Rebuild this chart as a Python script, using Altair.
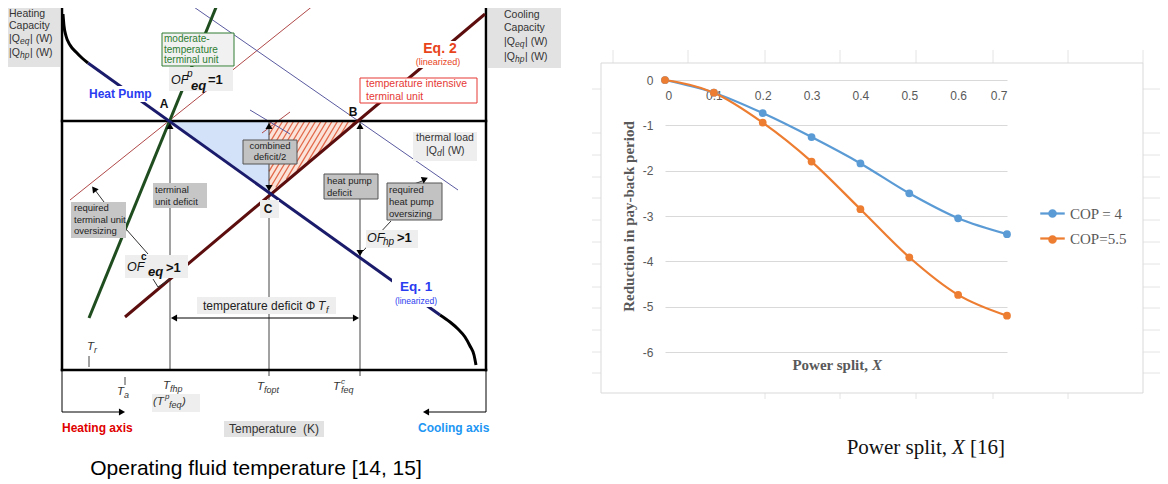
import altair as alt
import pandas as pd

# ---------------- right chart data ----------------
POWER_SPLIT = [0, 0.1, 0.2, 0.3, 0.4, 0.5, 0.6, 0.7]
COP_4 = [0, -0.28, -0.73, -1.26, -1.84, -2.50, -3.05, -3.40]
COP_55 = [0, -0.28, -0.94, -1.80, -2.85, -3.91, -4.74, -5.20]
SERIES = ["COP = 4", "COP=5.5"]
SERIES_COLORS = ["#5B9BD5", "#ED7D31"]
Y_TICKS = [-6, -5, -4, -3, -2, -1, 0]

# ---------------- left schematic (drawing units) ----------------
FRAME_THICK = [(62, 5, 486, 5), (62, 5, 62, 370), (486, 5, 486, 370),
               (62, 370, 486, 370), (62, 121, 486, 121)]
AXIS_LINES = [(62, 370, 62, 412), (62, 412, 119, 412), (486, 370, 486, 412),
              (486, 412, 429, 412), (174, 318, 356, 318)]
GUIDE_LINES = [(170, 121, 170, 370), (269, 121, 269, 376), (360, 121, 360, 376),
               (89, 356, 89, 367), (125, 377, 125, 385)]
CONNECTORS = [(104, 202, 95, 190), (126, 229, 148, 254), (153, 279, 158, 287),
              (158, 287, 170, 279), (414, 184, 425, 180), (391, 221, 363, 251)]
THIN_RED = [(70, 200, 314, 5), (262, 133, 290, 112)]
THIN_SLATE = [(191, 5, 458, 190), (250, 110, 290, 134)]

NAVY_LINE = [(88, 63), (440, 315)]
GREEN_LINE = [(89, 318), (217, 5)]
BROWN_LINE = [(125, 317), (485, 14)]
BLACK_TOP = [(63, 14), (64, 26), (66, 36), (70, 45), (76, 52), (82, 58), (88, 63)]
BLACK_BOTTOM = [(440, 315), (450, 322), (458, 329), (465, 337), (470, 346), (474, 355), (476, 365)]

HEADS = [(170, 126, 0), (269, 126, 0), (269, 188, 180), (360, 126, 0), (360, 253, 180),
         (174, 318, 270), (356, 318, 90), (122, 412, 90), (426, 412, 270),
         (94, 189, 323), (425, 179, 67)]

BLUE_TRI = [(170, 121, 121), (269, 121, 193)]
RED_TRI = [(269, 121, 193), (359, 121, 121)]
RED_TRI_VERTS = [(269, 121), (359, 121), (269, 193)]

CAP_BOXES = [(8, 60, 8, 67), (488, 561, 8, 68), (224, 324, 421, 437)]
LIGHT_BOXES = [(169, 233, 67, 91), (125, 188, 255, 278), (366, 418, 230, 248),
               (260, 279, 200, 218), (197, 336, 297, 314), (152, 200, 394, 412),
               (413, 477, 132, 161)]
DARK_BOXES_BORDER = [(243, 297, 140, 164), (324, 378, 174, 199), (387, 442, 183, 220)]
DARK_BOXES = [(153, 207, 183, 208), (71, 126, 202, 238)]
GREEN_BOX = [(162, 234, 33, 66)]
RED_BOX = [(360, 477, 78, 103)]
WHITE_BG = [(88, 152, 86, 102), (392, 441, 278, 307), (425, 457, 41, 57), (411, 466, 57, 68)]

EXCEL_BOX = [(601, 1143, 63, 393)]
SHEET_COLS = [613, 688, 765, 840, 916, 993, 1068, 1143]
SHEET_ROWS = [89, 133, 155, 177, 198, 220, 242, 264, 287, 308, 330, 352, 373]

T_CAP = [(9, 14, "Heating"), (9, 26, "Capacity"), (9, 39, "|Q"), (30, 39, "| (W)"),
         (9, 53, "|Q"), (30, 53, "| (W)"),
         (504, 15, "Cooling"), (504, 28, "Capacity"), (504, 42, "|Q"), (525, 42, "| (W)"),
         (504, 57, "|Q"), (525, 57, "| (W)"),
         (426, 151, "|Q"), (442, 151, "| (W)")]
T_CAP_SUB = [(20, 41, "eq"), (20, 55, "hp"), (515, 44, "eq"), (515, 59, "hp"), (437, 153, "d")]
T_CAP_C = [(445, 138, "thermal load")]
T_BOX = [(155, 190, "terminal"), (155, 202, "unit deficit"), (74, 208, "required"),
         (74, 220, "terminal unit"), (74, 231, "oversizing"), (327, 181, "heat pump"),
         (327, 193, "deficit"), (389, 190, "required"), (389, 202, "heat pump"),
         (389, 214, "oversizing")]
T_BOX_C = [(270, 146, "combined"), (270, 157, "deficit/2")]
T_GREEN = [(164, 39, "moderate-"), (164, 50, "temperature"), (164, 60, "terminal unit")]
T_RED = [(366, 84, "temperature intensive"), (366, 97, "terminal unit")]
T_EQ2 = [(440, 49, "Eq. 2")]
T_EQ2_S = [(438, 62, "(linearized)")]
T_EQ1 = [(416, 287, "Eq. 1")]
T_EQ1_S = [(416, 301, "(linearized)")]
T_HP = [(89, 94, "Heat Pump")]
T_PTS = [(164, 104, "A"), (353, 112, "B"), (268, 209, "C")]
T_OF = [(171, 80, "OF"), (127, 267, "OF"), (367, 238, "OF")]
T_OF_SMALL_I = [(187, 74, "p"), (383, 242, "hp")]
T_OF_BOLD = [(208, 80, "=1"), (166, 268, ">1"), (397, 238, ">1")]
T_OF_EQ = [(191, 86, "eq"), (148, 272, "eq")]
T_OF_C = [(141, 257, "c")]
T_TD = [(203, 306, "temperature deficit \u03a6")]
T_TD_T = [(318, 306, "T")]
T_TD_F = [(326, 310, "f")]
T_T = [(87, 347, "T"), (117, 392, "T"), (163, 386, "T"), (257, 387, "T"), (333, 387, "T"),
       (153, 402, "(T"), (182, 402, ")")]
T_T_SUB = [(94, 350, "r"), (124, 395, "a"), (170, 389, "fhp"), (264, 390, "fopt"),
           (341, 390, "feq"), (169, 405, "feq")]
T_T_SUP = [(341, 382, "c"), (165, 397, "p")]
T_HEATAX = [(62, 428, "Heating axis")]
T_COOLAX = [(418, 428, "Cooling axis")]
T_TEMPK = [(274, 429, "Temperature\u00a0 (K)")]
CAP_LEFT = [(256, 469, "Operating fluid temperature [14, 15]")]
CAP_RIGHT_A = [(947, 448, "Power split,")]
CAP_RIGHT_X = [(952, 448, "X")]
CAP_RIGHT_B = [(970, 448, "[16]")]
XTITLE_A = [(868, 365, "Power split,")]
XTITLE_X = [(872, 365, "X")]

SANS = "Liberation Sans"
SERIF = "Liberation Serif"

LXS = alt.Scale(domain=[8, 1160], nice=False, zero=False)
LYS = alt.Scale(domain=[8, 484], nice=False, zero=False, reverse=True)


def LX(f):
    return alt.X(f, type="quantitative", scale=LXS, axis=None)


def LY(f):
    return alt.Y(f, type="quantitative", scale=LYS, axis=None)


def segs(rows, **mk):
    df = pd.DataFrame(rows, columns=["x", "y", "x2", "y2"])
    return alt.Chart(df).mark_rule(**mk).encode(
        x=LX("x"), y=LY("y"), x2=alt.X2("x2"), y2=alt.Y2("y2"))


def poly(paths, **mk):
    rows = [dict(id=i, o=j, x=p[0], y=p[1]) for i, path in enumerate(paths) for j, p in enumerate(path)]
    return alt.Chart(pd.DataFrame(rows)).mark_line(**mk).encode(
        x=LX("x"), y=LY("y"), detail="id:N", order="o:Q")


def rects(rows, **mk):
    df = pd.DataFrame(rows, columns=["x", "x2", "y", "y2"])
    return alt.Chart(df).mark_rect(**mk).encode(
        x=LX("x"), x2=alt.X2("x2"), y=LY("y"), y2=alt.Y2("y2"))


def texts(rows, size, color="#222", align="left", weight="normal", style="normal", font=SANS):
    df = pd.DataFrame(rows, columns=["x", "y", "t"])
    return alt.Chart(df).mark_text(
        baseline="middle", align=align, fontSize=size, color=color,
        fontWeight=weight, fontStyle=style, font=font).encode(
        x=LX("x"), y=LY("y"), text="t:N")


def tri(rows, color):
    df = pd.DataFrame(rows, columns=["x", "y", "y2"])
    return alt.Chart(df).mark_area(color=color, opacity=1).encode(
        x=LX("x"), y=LY("y"), y2=alt.Y2("y2"))


def heads(rows):
    df = pd.DataFrame(rows, columns=["x", "y", "a"])
    return alt.Chart(df).mark_point(shape="triangle-up", filled=True, size=50,
                                    color="#000", opacity=1).encode(
        x=LX("x"), y=LY("y"), angle=alt.Angle("a:Q", scale=None))


def hatch_segments(verts, step, k):
    """Clip the texture lines x + k*y = c to a convex polygon (hatch pattern)."""
    xs = [v[0] + k * v[1] for v in verts]
    out = []
    c = min(xs) + step / 2
    n = len(verts)
    while c < max(xs):
        pts = []
        for i in range(n):
            (x1, y1), (x2, y2) = verts[i], verts[(i + 1) % n]
            f1, f2 = x1 + k * y1 - c, x2 + k * y2 - c
            if f1 == f2:
                continue
            t = f1 / (f1 - f2)
            if 0 <= t <= 1:
                pts.append((x1 + t * (x2 - x1), y1 + t * (y2 - y1)))
        if len(pts) >= 2:
            pts.sort()
            out.append((pts[0][0], pts[0][1], pts[-1][0], pts[-1][1]))
        c += step
    return out


sheet_v = [(x, 50, x, 63) for x in SHEET_COLS] + [(x, 393, x, 399) for x in SHEET_COLS[2:7]]
sheet_h = [(1143, y, 1160, y) for y in SHEET_ROWS] + [(592, y, 601, y) for y in SHEET_ROWS]

left_layers = [
    segs(sheet_v + sheet_h, color="#e4e4e4", strokeWidth=1),
    rects(EXCEL_BOX, fillOpacity=0, stroke="#d9d9d9", strokeWidth=1),
    tri(BLUE_TRI, "#d3e2f9"),
    tri(RED_TRI, "#fbe3da"),
    segs(hatch_segments(RED_TRI_VERTS, 5.5, 0.6), color="#e2694a", strokeWidth=1.3),
    segs(THIN_RED, color="#b04848", strokeWidth=1),
    segs(THIN_SLATE, color="#5a5aa0", strokeWidth=1),
    segs(GUIDE_LINES, color="#444", strokeWidth=1),
    segs(AXIS_LINES, color="#000", strokeWidth=1),
    segs(FRAME_THICK, color="#000", strokeWidth=2.5, strokeCap="square"),
    poly([GREEN_LINE], color="#1f4d1f", strokeWidth=3),
    poly([BROWN_LINE], color="#5c0d0d", strokeWidth=3),
    poly([NAVY_LINE], color="#1b1b6b", strokeWidth=3),
    poly([BLACK_TOP, BLACK_BOTTOM], color="#000", strokeWidth=3, interpolate="monotone"),
    rects(WHITE_BG, fill="white"),
    segs(CONNECTORS, color="#333", strokeWidth=1),
    rects(CAP_BOXES, fill="#e2e2e2"),
    rects(LIGHT_BOXES, fill="#eeeeee"),
    rects(DARK_BOXES_BORDER, fill="#c2c2c2", stroke="#555", strokeWidth=1),
    rects(DARK_BOXES, fill="#c6c6c6"),
    rects(GREEN_BOX, fill="#f1f1f1", stroke="#2e7d32", strokeWidth=1),
    rects(RED_BOX, fill="white", stroke="#e53935", strokeWidth=1),
    heads(HEADS),
    texts(T_CAP, 10.5, "#333"),
    texts(T_CAP_SUB, 8.5, "#333", style="italic"),
    texts(T_CAP_C, 10.5, "#333", align="center"),
    texts(T_BOX, 9.5, "#222"),
    texts(T_BOX_C, 9.5, "#222", align="center"),
    texts(T_GREEN, 10, "#2e7d32"),
    texts(T_RED, 10.5, "#e53935"),
    texts(T_EQ2, 14, "#e8441c", align="center", weight="bold"),
    texts(T_EQ2_S, 9, "#e8441c", align="center"),
    texts(T_EQ1, 13.5, "#2a3cf0", align="center", weight="bold"),
    texts(T_EQ1_S, 8.5, "#2a3cf0", align="center"),
    texts(T_HP, 12, "#2a3cf0", weight="bold"),
    texts(T_PTS, 12, "#111", align="center", weight="bold"),
    texts(T_OF, 12.5, "#111", style="italic"),
    texts(T_OF_SMALL_I, 10, "#111", style="italic"),
    texts(T_OF_BOLD, 13, "#111", weight="bold"),
    texts(T_OF_EQ, 13, "#111", weight="bold", style="italic"),
    texts(T_OF_C, 10, "#111", weight="bold"),
    texts(T_TD, 12, "#222"),
    texts(T_TD_T, 12, "#222", style="italic"),
    texts(T_TD_F, 9, "#222", style="italic"),
    texts(T_T, 11.5, "#333", style="italic"),
    texts(T_T_SUB, 9, "#333", style="italic"),
    texts(T_T_SUP, 8, "#333", style="italic"),
    texts(T_HEATAX, 12, "#e00000", weight="bold"),
    texts(T_COOLAX, 12, "#2196f3", weight="bold"),
    texts(T_TEMPK, 12, "#333", align="center"),
    texts(CAP_LEFT, 21, "#000", align="center"),
    texts(CAP_RIGHT_A, 21, "#111", align="right", font=SERIF),
    texts(CAP_RIGHT_X, 21, "#111", style="italic", font=SERIF),
    texts(CAP_RIGHT_B, 21, "#111", font=SERIF),
    texts(XTITLE_A, 15, "#595959", align="right", weight="bold", font=SERIF),
    texts(XTITLE_X, 15, "#595959", weight="bold", style="italic", font=SERIF),
]
left = alt.layer(*left_layers)

# ---------------- right chart ----------------
rdf = pd.DataFrame({
    "split": POWER_SPLIT + POWER_SPLIT,
    "val": COP_4 + COP_55,
    "series": [SERIES[0]] * len(POWER_SPLIT) + [SERIES[1]] * len(POWER_SPLIT),
})
rdf["marker"] = rdf["series"]

RXS = alt.Scale(domain=[0, 0.7], range=[657, 999], nice=False, zero=False)
RYS = alt.Scale(domain=[-6, 0], range=[344, 72], nice=False, zero=False)

x_axis = alt.Axis(values=POWER_SPLIT, labelExpr="'' + datum.value", orient="bottom",
                  offset=-404, domain=False, ticks=False, grid=False, labelPadding=10,
                  labelFont=SANS, labelFontSize=12, labelColor="#595959", title=None)
y_axis = alt.Axis(values=Y_TICKS, labelExpr="'' + datum.value", orient="left",
                  offset=-657, domain=False, ticks=False, grid=True, gridColor="#d9d9d9",
                  gridWidth=1, labelPadding=12, labelFont=SANS, labelFontSize=12,
                  labelColor="#595959", title="Reduction in pay-back period",
                  titleFont=SERIF, titleFontSize=15, titleFontWeight="bold",
                  titleColor="#595959", titlePadding=6)

RX = alt.X("split:Q", scale=RXS, axis=x_axis)
RY = alt.Y("val:Q", scale=RYS, axis=y_axis)

leg_common = dict(title=None, orient="none", legendX=1031, legendY=192, symbolSize=600,
                  symbolStrokeWidth=2.25, labelFont=SERIF, labelFontSize=15,
                  labelOffset=4, rowPadding=3, padding=0)

line_layer = alt.Chart(rdf).mark_line(interpolate="monotone", strokeWidth=2.25).encode(
    x=RX, y=RY,
    color=alt.Color("series:N", scale=alt.Scale(domain=SERIES, range=SERIES_COLORS),
                    legend=alt.Legend(symbolType="stroke", labelColor="#595959", **leg_common)))
point_layer = alt.Chart(rdf).mark_point(filled=True, size=60, opacity=1).encode(
    x=RX, y=RY,
    fill=alt.Fill("marker:N", scale=alt.Scale(range=SERIES_COLORS),
                  legend=alt.Legend(symbolType="M0.35,0A0.35,0.35,0,1,1,-0.35,0A0.35,0.35,0,1,1,0.35,0Z",
                                    labelColor="transparent", symbolStrokeColor="transparent",
                                    **leg_common)))
right = alt.layer(line_layer, point_layer)

chart = alt.layer(left, right).resolve_scale(x="independent", y="independent").properties(
    width=1152, height=476, padding=0, background="white",
    autosize=alt.AutoSizeParams(type="none"),
).configure(font=SANS).configure_view(strokeOpacity=0)

chart.save("out.html", embed_options={"renderer": "svg", "actions": False})
